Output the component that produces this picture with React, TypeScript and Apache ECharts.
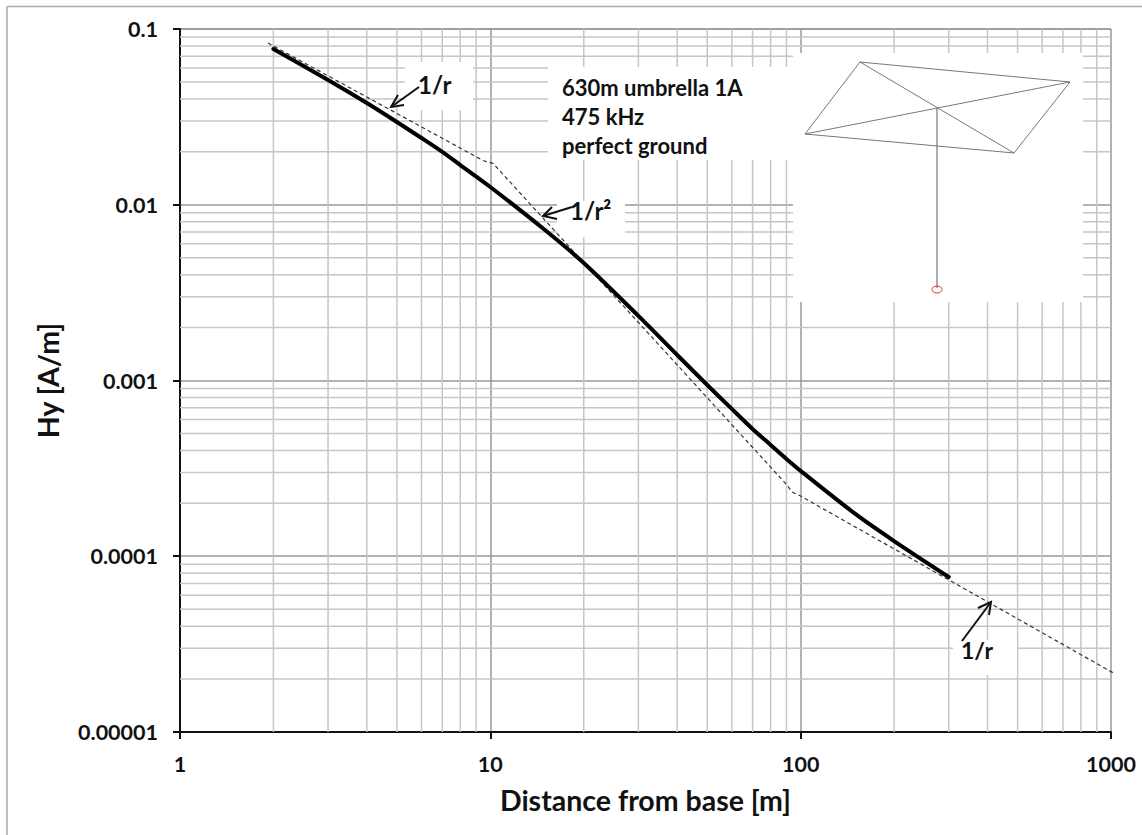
import React, { useEffect, useRef } from "react";
import * as echarts from "echarts";

const curveDistance = [2, 3, 4, 5, 6, 7, 8, 10, 15, 20, 30, 40, 50, 60, 70, 80, 90, 100, 150, 200, 300];
const curveHy = [0.0769, 0.0513, 0.03793, 0.02957, 0.02398, 0.01999, 0.01683, 0.01262, 0.00718, 0.00466, 0.00233, 0.001397, 0.000943, 0.000689, 0.00053, 0.00043, 0.000358, 0.000306, 0.000174, 0.000122, 0.0000762];
const asymptoteDistance = [1.92, 9.5, 10.2, 90.4, 93.8, 100, 1016];
const asymptoteHy = [0.0832, 0.0178, 0.0172, 0.000254, 0.000232, 0.00022, 0.0000217];

const xMinor = [2, 3, 4, 5, 6, 7, 8, 9, 20, 30, 40, 50, 60, 70, 80, 90, 200, 300, 400, 500, 600, 700, 800, 900];
const yMinor = [
  0.00002, 0.00003, 0.00004, 0.00005, 0.00006, 0.00007, 0.00008, 0.00009,
  0.0002, 0.0003, 0.0004, 0.0005, 0.0006, 0.0007, 0.0008, 0.0009,
  0.002, 0.003, 0.004, 0.005, 0.006, 0.007, 0.008, 0.009,
  0.02, 0.03, 0.04, 0.05, 0.06, 0.07, 0.08, 0.09,
];
const xRange = [1, 1000];
const yRange = [0.00001, 0.1];
const xTickLabels = ["1", "10", "100", "1000"];
const yTickLabels = ["0.00001", "0.0001", "0.001", "0.01", "0.1"];
const infoLines = ["630m umbrella 1A", "475 kHz", "perfect ground"];

const FONT = "Lato, 'Noto Sans', sans-serif";
const GRID = "#c6c6c6";

const box = (x: number, y: number, width: number, height: number) => ({
  type: "rect", z: 10, shape: { x, y, width, height }, style: { fill: "#fff" }, silent: true,
});
const seg = (x1: number, y1: number, x2: number, y2: number, stroke: string, lineWidth: number, z = 30) => ({
  type: "line", z, shape: { x1, y1, x2, y2 }, style: { stroke, lineWidth }, silent: true,
});
const arrow = (tail: number[], tip: number[], a: number[], b: number[]) => [
  seg(tail[0], tail[1], tip[0], tip[1], "#111", 2),
  { type: "polyline", z: 30, shape: { points: [a, tip, b] }, style: { stroke: "#111", lineWidth: 2, fill: "none" }, silent: true },
];
const label = (text: string, x: number, y: number, fontSize: number) => ({
  type: "text", z: 30, x, y, silent: true,
  style: { text, fontFamily: FONT, fontWeight: 700, fontSize, fill: "#111", textVerticalAlign: "middle" },
});
const gridLine = (data: number[][]) => ({
  type: "line", z: 1, silent: true, symbol: "none", data,
  lineStyle: { color: GRID, width: 1.5 },
});

export default function App() {
  const ref = useRef<HTMLDivElement>(null);
  useEffect(() => {
    const chart = echarts.init(ref.current!, null, { renderer: "svg" });
    const gray = "#777";
    const option: any = {
      animation: false,
      backgroundColor: "#fff",
      grid: { left: 180, top: 29, right: 31, bottom: 103 },
      xAxis: {
        type: "log", logBase: 10, min: xRange[0], max: xRange[1],
        name: "Distance from base [m]", nameLocation: "middle", nameGap: 53,
        nameTextStyle: { fontFamily: FONT, fontWeight: 700, fontSize: 28.5, color: "#111" },
        axisLine: { onZero: false, lineStyle: { color: "#111", width: 2 } },
        axisTick: { show: true, length: 7, lineStyle: { color: "#111", width: 2 } },
        axisLabel: {
          margin: 21, fontFamily: FONT, fontWeight: 700, fontSize: 21.5, color: "#111",
          formatter: (v: number) => xTickLabels[Math.round(Math.log10(v))],
        },
        splitLine: { show: true, lineStyle: { color: "#999", width: 1.5 } },
        minorTick: { show: false },
      },
      yAxis: {
        type: "log", logBase: 10, min: yRange[0], max: yRange[1],
        name: "Hy [A/m]", nameLocation: "middle", nameGap: 118, nameRotate: 90,
        nameTextStyle: { fontFamily: FONT, fontWeight: 700, fontSize: 28.5, color: "#111" },
        axisLine: { onZero: false, lineStyle: { color: "#111", width: 2 } },
        axisTick: { show: true, length: 7, lineStyle: { color: "#111", width: 2 } },
        axisLabel: {
          margin: 22, fontFamily: FONT, fontWeight: 700, fontSize: 21.5, color: "#111",
          formatter: (v: number) => yTickLabels[Math.round(Math.log10(v)) + 5],
        },
        splitLine: { show: true, lineStyle: { color: "#999", width: 1.5 } },
      },
      series: [
        ...xMinor.map((v) => gridLine([[v, yRange[0]], [v, yRange[1]]])),
        ...yMinor.map((v) => gridLine([[xRange[0], v], [xRange[1], v]])),
        {
          type: "line", name: "asymptotes", z: 20, symbol: "none", clip: false,
          data: asymptoteDistance.map((d, i) => [d, asymptoteHy[i]]),
          lineStyle: { color: "#333", width: 1.2, type: [4, 3] },
        },
        {
          type: "line", name: "Hy", z: 21, symbol: "none", smooth: 0.3,
          data: curveDistance.map((d, i) => [d, curveHy[i]]),
          lineStyle: { color: "#000", width: 4, cap: "round", join: "round" },
        },
      ],
      graphic: { elements: [
        seg(7, 6.5, 1142, 6.5, "#aaa", 1.5),
        seg(7, 6.5, 7, 835, "#aaa", 1.5),
        box(405, 62, 68, 48),
        box(557, 201, 68, 36),
        box(953, 640, 64, 35),
        box(548, 67, 245, 93),
        box(793, 53, 290, 249),
        { type: "polygon", z: 30, silent: true, shape: { points: [[860, 62], [1070, 82], [1014, 153], [805, 134]] }, style: { stroke: gray, lineWidth: 1, fill: "none" } },
        seg(860, 62, 1014, 153, gray, 1),
        seg(805, 134, 1070, 82, gray, 1),
        seg(937, 108, 937, 288, gray, 1.2),
        { type: "ellipse", z: 30, silent: true, shape: { cx: 937, cy: 289.5, rx: 5, ry: 3.5 }, style: { stroke: "#e8303a", lineWidth: 1, fill: "none" } },
        label(infoLines[0], 562, 87, 22),
        label(infoLines[1], 562, 116, 22),
        label(infoLines[2], 562, 145, 22),
        label("1/r", 418, 84, 24),
        label("1/r²", 570, 210, 24),
        label("1/r", 961, 650, 23),
        ...arrow([419, 87], [391, 107], [404, 105], [398, 95]),
        ...arrow([572, 207], [543, 216], [557, 219], [552, 207]),
        ...arrow([962, 641], [991, 602], [978, 608], [989, 615]),
      ] },
    };
    chart.setOption(option);
    return () => chart.dispose();
  }, []);
  return <div ref={ref} style={{ position: "absolute", left: 0, top: 0, width: 1142, height: 835 }} />;
}
